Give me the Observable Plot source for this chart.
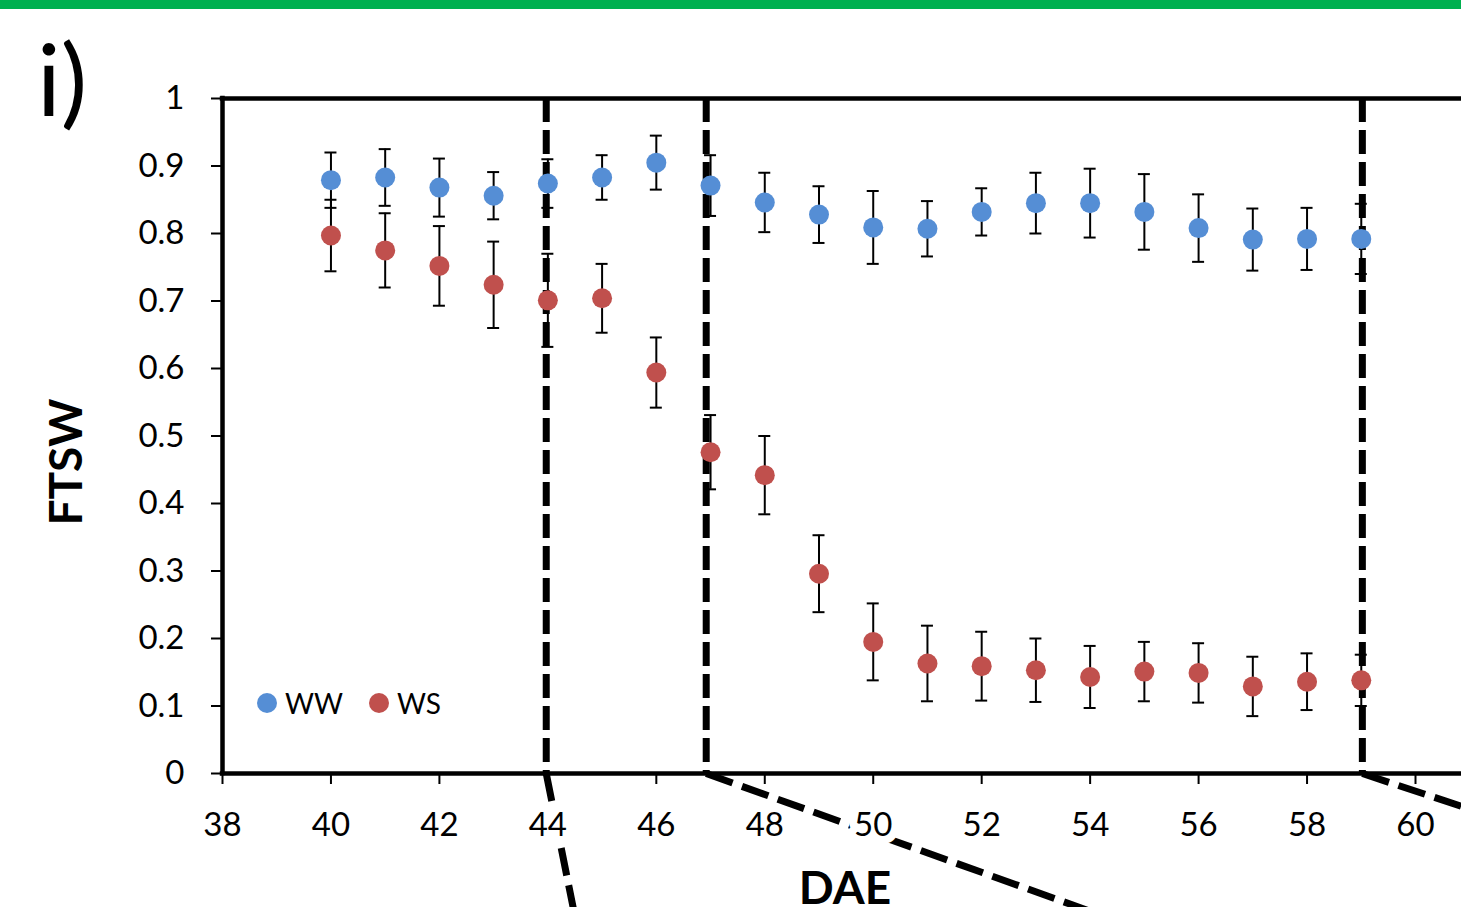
<!DOCTYPE html>
<html>
<head>
<meta charset="utf-8">
<script src="https://cdn.jsdelivr.net/npm/d3@7"></script>
<script src="https://cdn.jsdelivr.net/npm/@observablehq/plot@0.6"></script>
<style>
  html, body { margin: 0; padding: 0; background: white; overflow: hidden; }
  #wrap { position: relative; width: 1461px; height: 907px; font-family: Lato, "Open Sans", sans-serif; color: black; }
  #bar { position: absolute; left: 0; top: 0; width: 1461px; height: 9px; background: #00b050; z-index: 2; }
  #chart { position: absolute; left: 0; top: 0; }
  .panel { position: absolute; left: 37px; top: 28px; font-size: 99px; line-height: 1; }
  .ylabel { position: absolute; left: 65px; top: 462px; font-size: 46px; font-weight: bold; line-height: 1; transform: translate(-50%, -50%) rotate(-90deg); white-space: nowrap; }
  .xlabel { position: absolute; left: 845px; top: 864px; font-size: 46px; font-weight: bold; line-height: 1; transform: translateX(-50%); white-space: nowrap; }
  .leg { position: absolute; top: 689px; display: flex; align-items: center; font-size: 28px; line-height: 1; }
  .leg span.dot { display: inline-block; width: 20px; height: 20px; border-radius: 50%; margin-right: 8px; }
</style>
</head>
<body>
<div id="wrap">
  <div id="bar"></div>
  <div id="chart"></div>
  <div class="panel">i)</div>
  <div class="ylabel">FTSW</div>
  <div class="xlabel">DAE</div>
  <div id="legend"></div>
</div>
<script>
// ---- data ----
const days = [40, 41, 42, 43, 44, 45, 46, 47, 48, 49, 50, 51, 52, 53, 54, 55, 56, 57, 58, 59];
const wwMean = [0.879, 0.883, 0.868, 0.856, 0.874, 0.883, 0.905, 0.871, 0.846, 0.828, 0.809, 0.807, 0.832, 0.845, 0.845, 0.832, 0.808, 0.791, 0.792, 0.792];
const wwErr  = [0.041, 0.042, 0.043, 0.035, 0.036, 0.033, 0.040, 0.045, 0.044, 0.042, 0.054, 0.041, 0.035, 0.045, 0.051, 0.056, 0.050, 0.046, 0.046, 0.052];
const wsMean = [0.797, 0.775, 0.752, 0.724, 0.701, 0.704, 0.594, 0.476, 0.442, 0.296, 0.195, 0.163, 0.159, 0.153, 0.143, 0.151, 0.149, 0.129, 0.136, 0.138];
const wsErr  = [0.053, 0.055, 0.059, 0.064, 0.069, 0.051, 0.052, 0.055, 0.058, 0.057, 0.057, 0.056, 0.051, 0.047, 0.046, 0.044, 0.044, 0.044, 0.042, 0.038];
const groups = ["WW", "WS"];
const groupColors = ["#558ED5", "#C0504D"];
const xTicks = [38, 40, 42, 44, 46, 48, 50, 52, 54, 56, 58, 60];
const yTicks = [0, 0.1, 0.2, 0.3, 0.4, 0.5, 0.6, 0.7, 0.8, 0.9, 1];
// period markers (as drawn, slightly off the day grid)
const markerDays = [43.97, 46.92, 59.02];
// zoom connector lines leading out below the axis (annotation)
const connX1 = [43.97, 46.92, 59.02];
const connY1 = [0, 0, 0];
const connX2 = [44.55, 55, 61.5];
const connY2 = [-0.232, -0.233, -0.066];

// ---- tables ----
const rows = [];
days.forEach((d, i) => rows.push({day: d, ftsw: wwMean[i], err: wwErr[i], group: "WW"}));
days.forEach((d, i) => rows.push({day: d, ftsw: wsMean[i], err: wsErr[i], group: "WS"}));
const connectors = connX1.map((x, i) => ({x1: x, y1: connY1[i], x2: connX2[i], y2: connY2[i]}));

const chart = Plot.plot({
  width: 1461,
  height: 907,
  marginLeft: 222,
  marginRight: 46,
  marginTop: 98,
  marginBottom: 134,
  x: {domain: [38, 60]},
  y: {domain: [0, 1]},
  color: {domain: groups, range: groupColors},
  style: {fontFamily: "Lato, 'Open Sans', sans-serif", fontSize: "33px", color: "black", background: "transparent"},
  marks: [
    Plot.link(connectors, {x1: "x1", y1: "y1", x2: "x2", y2: "y2", stroke: "black", strokeWidth: 7, strokeDasharray: "28,10"}),
    Plot.axisX({ticks: xTicks, tickSize: 11, tickPadding: 28, tickFormat: d3.format("~g"), label: null, strokeWidth: 2, textStroke: "white", textStrokeWidth: 16}),
    Plot.axisY({ticks: yTicks, tickSize: 11, tickPadding: 27, tickFormat: d3.format("~g"), label: null, strokeWidth: 2}),
    Plot.ruleX(markerDays, {stroke: "black", strokeWidth: 7, strokeDasharray: "24,8"}),
    Plot.ruleY([0, 1], {stroke: "black", strokeWidth: 4.5, insetRight: -60, strokeLinecap: "square"}),
    Plot.ruleX([38], {stroke: "black", strokeWidth: 4.5, strokeLinecap: "square"}),
    Plot.ruleX(rows, {x: "day", y1: d => d.ftsw - d.err, y2: d => d.ftsw + d.err, stroke: "black", strokeWidth: 2}),
    Plot.ruleY(rows, {y: d => d.ftsw - d.err, x1: "day", x2: "day", insetLeft: -6, insetRight: -6, stroke: "black", strokeWidth: 2}),
    Plot.ruleY(rows, {y: d => d.ftsw + d.err, x1: "day", x2: "day", insetLeft: -6, insetRight: -6, stroke: "black", strokeWidth: 2}),
    Plot.dot(rows, {x: "day", y: "ftsw", fill: "group", r: 10, stroke: null})
  ]
});
document.getElementById("chart").appendChild(chart);

// legend
const legend = document.getElementById("legend");
const legLefts = [257, 369];
groups.forEach((g, i) => {
  const item = document.createElement("div");
  item.className = "leg";
  item.style.left = legLefts[i] + "px";
  item.innerHTML = `<span class="dot" style="background:${groupColors[i]}"></span><span>${g}</span>`;
  legend.appendChild(item);
});
</script>
</body>
</html>
